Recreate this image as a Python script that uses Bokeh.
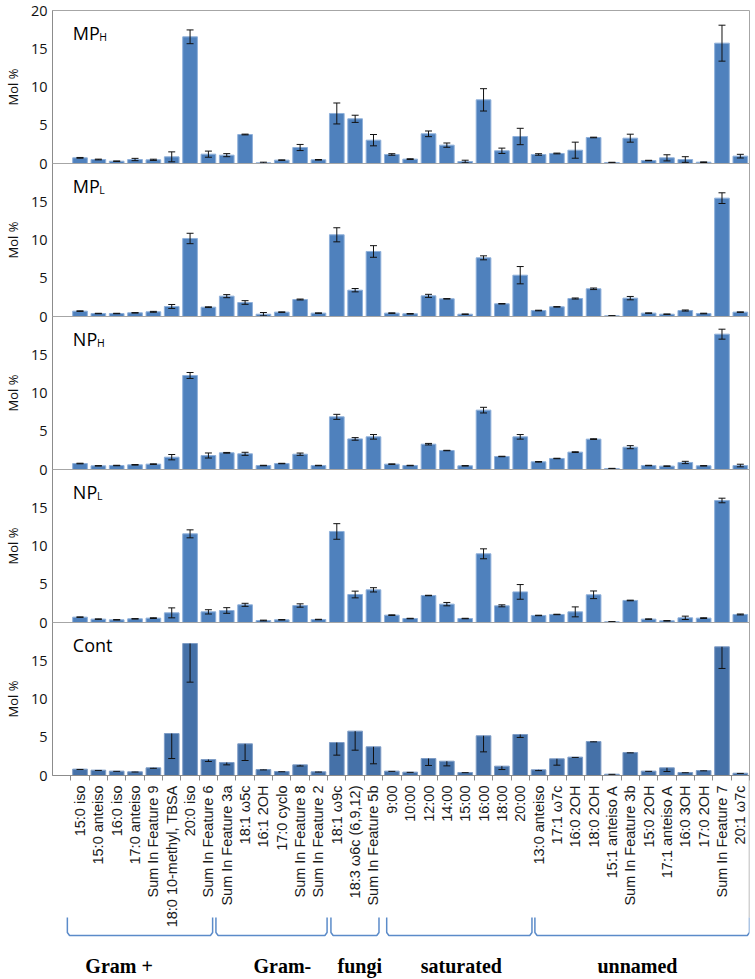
import math
from bokeh.plotting import figure
from bokeh.layouts import column
from bokeh.models import Range1d, FixedTicker, ColumnDataSource
from bokeh.core.properties import value
from bokeh.embed import file_html
from bokeh.resources import INLINE

# ---------------- data ----------------
categories = ["15:0 iso", "15:0 anteiso", "16:0 iso", "17:0 anteiso", "Sum In Feature 9",
              "18:0 10-methyl, TBSA", "20:0 iso", "Sum In Feature 6", "Sum In Feature 3a",
              "18:1 ω5c", "16:1 2OH", "17:0 cyclo", "Sum In Feature 8", "Sum In Feature 2",
              "18:1 ω9c", "18:3 ω6c (6,9,12)", "Sum In Feature 5b", "9:00", "10:00", "12:00",
              "14:00", "15:00", "16:00", "18:00", "20:00", "13:0 anteiso", "17:1 ω7c",
              "16:0 2OH", "18:0 2OH", "15:1 anteiso A", "Sum In Feature 3b", "15:0 2OH",
              "17:1 anteiso A", "16:0 3OH", "17:0 2OH", "Sum In Feature 7", "20:1 ω7c"]

mp_h = [0.74, 0.52, 0.30, 0.52, 0.48, 0.87, 16.56, 1.22, 1.09, 3.79, 0.09, 0.44, 2.09, 0.48,
        6.54, 5.84, 3.05, 1.18, 0.57, 3.88, 2.40, 0.26, 8.32, 1.66, 3.53, 1.18, 1.31, 1.74,
        3.40, 0.13, 3.31, 0.39, 0.74, 0.52, 0.17, 15.73, 0.96]
mp_h_err = [0.05, 0.05, 0.03, 0.15, 0.08, 0.65, 0.90, 0.40, 0.20, 0.05, 0.08, 0.03, 0.40, 0.04,
            1.37, 0.47, 0.74, 0.10, 0.05, 0.37, 0.28, 0.17, 1.46, 0.35, 1.07, 0.10, 0.05, 1.05,
            0.04, 0.03, 0.52, 0.03, 0.40, 0.37, 0.04, 2.35, 0.24]

mp_l = [0.70, 0.39, 0.39, 0.48, 0.61, 1.31, 10.20, 1.22, 2.66, 1.83, 0.30, 0.57, 2.22, 0.44,
        10.68, 3.44, 8.50, 0.44, 0.35, 2.70, 2.31, 0.30, 7.67, 1.66, 5.40, 0.78, 1.26, 2.35,
        3.62, 0.09, 2.40, 0.44, 0.30, 0.78, 0.39, 15.47, 0.57]
mp_l_err = [0.04, 0.03, 0.03, 0.03, 0.06, 0.26, 0.68, 0.05, 0.20, 0.24, 0.22, 0.03, 0.06, 0.03,
            0.92, 0.22, 0.76, 0.03, 0.04, 0.20, 0.03, 0.03, 0.26, 0.03, 1.13, 0.04, 0.03, 0.07,
            0.10, 0.02, 0.22, 0.03, 0.03, 0.07, 0.04, 0.70, 0.03]

np_h = [0.78, 0.48, 0.52, 0.61, 0.70, 1.61, 12.29, 1.83, 2.18, 2.05, 0.52, 0.78, 2.00, 0.52,
        6.88, 4.00, 4.27, 0.70, 0.52, 3.31, 2.48, 0.48, 7.76, 1.70, 4.27, 1.00, 1.44, 2.27,
        3.97, 0.13, 2.92, 0.52, 0.44, 0.92, 0.48, 17.69, 0.52]
np_h_err = [0.04, 0.03, 0.03, 0.04, 0.04, 0.35, 0.39, 0.33, 0.05, 0.20, 0.03, 0.03, 0.15, 0.03,
            0.33, 0.17, 0.30, 0.03, 0.03, 0.10, 0.03, 0.03, 0.37, 0.03, 0.30, 0.04, 0.03, 0.05,
            0.05, 0.02, 0.20, 0.03, 0.03, 0.15, 0.03, 0.65, 0.17]

np_l = [0.70, 0.44, 0.35, 0.48, 0.57, 1.26, 11.59, 1.39, 1.57, 2.31, 0.26, 0.35, 2.22, 0.39,
        11.90, 3.66, 4.27, 0.96, 0.52, 3.53, 2.40, 0.52, 8.98, 2.18, 4.00, 0.92, 1.05, 1.39,
        3.62, 0.09, 2.88, 0.44, 0.22, 0.61, 0.57, 15.95, 1.05]
np_l_err = [0.03, 0.03, 0.03, 0.03, 0.05, 0.65, 0.52, 0.28, 0.37, 0.20, 0.05, 0.03, 0.22, 0.03,
            1.02, 0.44, 0.28, 0.04, 0.03, 0.03, 0.22, 0.03, 0.65, 0.13, 0.96, 0.03, 0.03, 0.65,
            0.50, 0.02, 0.04, 0.03, 0.03, 0.22, 0.05, 0.30, 0.06]

cont = [0.83, 0.70, 0.57, 0.48, 1.00, 5.49, 17.25, 2.09, 1.70, 4.14, 0.78, 0.52, 1.39, 0.48,
        4.31, 5.80, 3.75, 0.57, 0.44, 2.22, 1.87, 0.39, 5.19, 1.22, 5.36, 0.74, 2.18, 2.40,
        4.44, 0.17, 3.00, 0.57, 1.00, 0.39, 0.65, 16.82, 0.30]
cont_err = [0.04, 0.04, 0.03, 0.03, 0.06, 3.27, 5.05, 0.26, 0.31, 2.18, 0.05, 0.03, 0.15, 0.03,
            1.65, 2.49, 2.22, 0.03, 0.03, 0.91, 0.61, 0.02, 2.10, 0.44, 0.39, 0.10, 0.83, 0.04,
            0.04, 0.02, 0.04, 0.03, 0.48, 0.03, 0.04, 2.83, 0.03]

panel_names = [("MP", "H"), ("MP", "L"), ("NP", "H"), ("NP", "L"), ("Cont", "")]
y_ticks_top = [0, 5, 10, 15, 20]
y_ticks = [0, 5, 10, 15]

group_names = ["Gram +", "Gram-", "fungi", "saturated", "unnamed"]
group_sizes = [8, 6, 3, 8, 12]

# ---------------- layout / style ----------------
W = 753
BORDER_L = 49
BORDER_R = 4
TOP_B = 10
FRAME_H = 153
OVER = 8
AXIS_H = 159
BAR_COLOR = "#4F81BD"
BAR_EDGE = "#8FB0DA"
CONT_COLOR = "#4571A8"
CONT_EDGE = "#7F9DC6"
GRAY = "#8C8C8C"
CAP = 0.19
NAME_X, NAME_Y, SUB_Y = 1.11, 17.0, 16.6
sub_x = {"MP": 2.55, "NP": 2.43, "Cont": 0}
bracket_spans = [(0.81, 8.73), (8.91, 14.97), (15.18, 17.8), (18.22, 26.14), (26.3, 38.0)]
group_label_x = [3.63, 12.53, 16.75, 22.29, 31.89]
BH = 203            # height of the bracket strip (overlays the label area)
BR_TOP, BR_CORNER, BR_LINE, LBL_Y = 61, 46, 43, 13

N = len(categories)
x_range = Range1d(0, N + 1)
xs = [i + 1.5 for i in range(N)]


def make_panel(vals, errs, names, first, last, color, edge, minus_only):
    top_b = TOP_B if first else 0
    bot_b = AXIS_H if last else OVER
    h = top_b + FRAME_H + bot_b
    p = figure(width=W, height=h, x_range=x_range, y_range=Range1d(0, 20),
               output_backend="svg", toolbar_location=None,
               x_axis_location="below" if last else None,
               min_border_left=BORDER_L, min_border_right=BORDER_R,
               min_border_top=top_b, min_border_bottom=bot_b,
               background_fill_color=None, border_fill_color=None,
               outline_line_color="#A6A6A6",
               margin=(0, 0, 0, 0) if first else (-OVER, 0, 0, 0))
    p.xgrid.grid_line_color = None
    p.ygrid.grid_line_color = None

    ya = p.yaxis[0]
    ya.ticker = FixedTicker(ticks=y_ticks_top if first else y_ticks)
    ya.axis_label = "Mol %"
    ya.axis_label_text_font = "Open Sans"
    ya.axis_label_text_font_size = "13px"
    ya.axis_label_text_font_style = "normal"
    ya.axis_label_text_color = "#111111"
    ya.axis_label_standoff = 6
    ya.major_label_text_font = "Open Sans"
    ya.major_label_text_font_size = "14.5px"
    ya.major_label_text_color = "#111111"
    ya.major_label_standoff = 5
    ya.major_tick_line_color = None
    ya.major_tick_out = 0
    ya.major_tick_in = 0
    ya.minor_tick_line_color = None
    ya.axis_line_color = GRAY

    src = ColumnDataSource(dict(
        x=xs, top=vals,
        lo=[v - e for v, e in zip(vals, errs)],
        hi=[v if minus_only else v + e for v, e in zip(vals, errs)],
        xl=[x - CAP for x in xs], xr=[x + CAP for x in xs]))
    p.vbar(x="x", top="top", bottom=0, width=0.8, source=src,
           fill_color=color, line_color=edge, line_width=1)
    p.segment(x0="x", y0="lo", x1="x", y1="hi", source=src, line_color="#111111", line_width=1)
    p.segment(x0="xl", y0="lo", x1="xr", y1="lo", source=src, line_color="#111111", line_width=1)
    if not minus_only:
        p.segment(x0="xl", y0="hi", x1="xr", y1="hi", source=src, line_color="#111111", line_width=1)

    main, sub = names
    p.text(x=[NAME_X], y=[NAME_Y], text=[main], text_font=value("Open Sans"),
           text_font_size="18px", text_baseline="middle", text_align="left",
           text_color="#000000")
    if sub:
        p.text(x=[sub_x[main]], y=[SUB_Y], text=[sub], text_font=value("Open Sans"),
               text_font_size="10.5px", text_baseline="middle", text_align="left",
               text_color="#000000")

    if last:
        xa = p.xaxis[0]
        xa.ticker = FixedTicker(ticks=xs, minor_ticks=list(range(1, N + 2)))
        xa.major_label_overrides = {x: c for x, c in zip(xs, categories)}
        xa.major_label_orientation = math.pi / 2
        xa.major_label_text_font = "Liberation Sans"
        xa.major_label_text_font_size = "14.5px"
        xa.major_label_text_color = "#1a1a1a"
        xa.major_label_standoff = 5
        xa.major_tick_line_color = None
        xa.major_tick_out = 5
        xa.major_tick_in = 0
        xa.minor_tick_out = 5
        xa.minor_tick_in = 0
        xa.minor_tick_line_color = GRAY
        xa.axis_line_color = GRAY
    return p


series = [(mp_h, mp_h_err), (mp_l, mp_l_err), (np_h, np_h_err), (np_l, np_l_err), (cont, cont_err)]
panels = []
for k, ((vals, errs), names) in enumerate(zip(series, panel_names)):
    last = k == len(series) - 1
    panels.append(make_panel(vals, errs, names, k == 0, last,
                             CONT_COLOR if last else BAR_COLOR,
                             CONT_EDGE if last else BAR_EDGE, last))

# bracket / group strip overlaying the label area of the last panel
b = figure(width=W, height=BH, x_range=x_range, y_range=Range1d(0, BH),
           output_backend="svg", toolbar_location=None,
           x_axis_location=None, y_axis_location=None,
           min_border_left=BORDER_L, min_border_right=BORDER_R,
           min_border_top=0, min_border_bottom=0,
           background_fill_color=None, border_fill_color=None,
           outline_line_color=None, margin=(-AXIS_H, 0, 0, 0))
b.xgrid.grid_line_color = None
b.ygrid.grid_line_color = None

bx, by = [], []
for (x0, x1) in bracket_spans:
    bx.append([x0, x0, x0 + 0.12, x1 - 0.12, x1, x1])
    by.append([BR_TOP, BR_CORNER, BR_LINE, BR_LINE, BR_CORNER, BR_TOP])
b.multi_line(xs=bx, ys=by, line_color="#5B8BC9", line_width=1.5)
b.segment(x0=[N + 1], y0=[BH], x1=[N + 1], y1=[BR_TOP], line_color="#A6A6A6", line_width=1.5)

b.text(x=group_label_x, y=[LBL_Y] * len(group_names), text=group_names,
       text_font=value("Liberation Serif"), text_font_style="bold", text_font_size="20px",
       text_align="center", text_baseline="middle", text_color="#000000")

layout = column(*panels, b, spacing=0)
open("out.html", "w").write(file_html(layout, INLINE))
